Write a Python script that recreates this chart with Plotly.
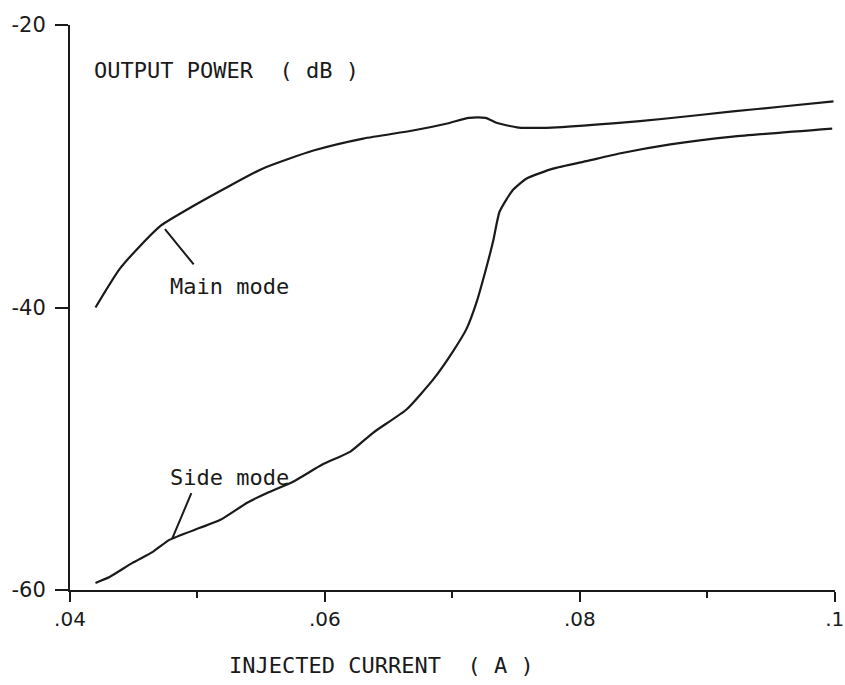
import plotly.graph_objects as go

# Main mode curve (injected current in A, output power in dB)
main_x = [0.0420, 0.0439, 0.0455, 0.0471, 0.0497, 0.0524, 0.0551, 0.0591, 0.0630,
          0.0669, 0.0696, 0.0713, 0.0726, 0.0734, 0.0745, 0.0752, 0.0778, 0.0826,
          0.0868, 0.0920, 0.0959, 0.0999]
main_y = [-40.0, -37.27, -35.64, -34.22, -32.8, -31.45, -30.17, -28.89, -28.04,
          -27.47, -26.97, -26.57, -26.57, -26.9, -27.15, -27.26, -27.26, -26.97,
          -26.62, -26.12, -25.77, -25.41]

# Side mode curve
side_x = [0.0420, 0.0431, 0.0449, 0.0465, 0.0478, 0.0502, 0.0518, 0.0539, 0.0555,
          0.0575, 0.0598, 0.0620, 0.0638, 0.0664, 0.0685, 0.0700, 0.0711, 0.0719,
          0.0727, 0.0732, 0.0737, 0.0747, 0.0758, 0.0779, 0.0806, 0.0831, 0.0871,
          0.0920, 0.0998]
side_y = [-59.5, -59.08, -58.08, -57.30, -56.45, -55.6, -55.03, -53.82, -53.11,
          -52.33, -51.12, -50.20, -48.85, -47.22, -45.09, -43.17, -41.53, -39.62,
          -37.06, -35.3, -33.22, -31.73, -30.88, -30.17, -29.62, -29.1, -28.45,
          -27.90, -27.33]

x_ticks = [0.04, 0.06, 0.08, 0.1]
x_tick_text = [".04", ".06", ".08", ".1"]
x_minor_ticks = [0.05, 0.07, 0.09]
y_ticks = [-60, -40, -20]
y_tick_text = ["-60", "-40", "-20"]

INK = "#1a1a1a"
FONT = "DejaVu Sans Mono"
TICK_FONT = "DejaVu Sans"

fig = go.Figure()
fig.add_trace(go.Scatter(x=main_x, y=main_y, mode="lines",
                         line=dict(color=INK, width=2.2, shape="spline", smoothing=0.6),
                         showlegend=False, hoverinfo="skip"))
fig.add_trace(go.Scatter(x=side_x, y=side_y, mode="lines",
                         line=dict(color=INK, width=2.2, shape="spline", smoothing=0.5),
                         showlegend=False, hoverinfo="skip"))

# leader lines
fig.add_annotation(x=0.04745, y=-34.45, ax=0.0498, ay=-37.06, axref="x", ayref="y",
                   xref="x", yref="y", text="", showarrow=True, arrowhead=0,
                   arrowwidth=2, arrowcolor=INK)
fig.add_annotation(x=0.0480, y=-56.4, ax=0.04957, ay=-53.04, axref="x", ayref="y",
                   xref="x", yref="y", text="", showarrow=True, arrowhead=0,
                   arrowwidth=2, arrowcolor=INK)

# labels
fig.add_annotation(x=0.04173, y=-23.2, xref="x", yref="y", text="OUTPUT POWER  ( dB )",
                   showarrow=False, xanchor="left", yanchor="middle",
                   font=dict(family=FONT, size=22, color=INK))
fig.add_annotation(x=0.04769, y=-38.48, xref="x", yref="y", text="Main mode",
                   showarrow=False, xanchor="left", yanchor="middle",
                   font=dict(family=FONT, size=22, color=INK))
fig.add_annotation(x=0.04769, y=-52.05, xref="x", yref="y", text="Side mode",
                   showarrow=False, xanchor="left", yanchor="middle",
                   font=dict(family=FONT, size=22, color=INK))
fig.add_annotation(x=0.205, y=-0.133, xref="paper", yref="paper",
                   text="INJECTED CURRENT  ( A )",
                   showarrow=False, xanchor="left", yanchor="middle",
                   font=dict(family=FONT, size=22, color=INK))

fig.update_xaxes(range=[0.04, 0.10002], tickvals=x_ticks, ticktext=x_tick_text,
                 showline=True, linecolor=INK, linewidth=2, ticks="outside",
                 ticklen=10, tickwidth=2, tickcolor=INK, showgrid=False,
                 zeroline=False, ticklabeloverflow="allow", automargin=False,
                 tickfont=dict(family=TICK_FONT, size=20, color=INK),
                 minor=dict(tickvals=x_minor_ticks, ticks="outside", ticklen=6,
                            tickwidth=2, tickcolor=INK, showgrid=False))
fig.update_yaxes(range=[-60, -20], tickvals=y_ticks, ticktext=y_tick_text,
                 showline=True, linecolor=INK, linewidth=2, ticks="outside",
                 ticklen=13, tickwidth=2, tickcolor=INK, showgrid=False,
                 zeroline=False, ticklabelstandoff=5, ticklabeloverflow="allow",
                 automargin=False,
                 tickfont=dict(family=TICK_FONT, size=21, color=INK))

fig.update_layout(width=845, height=685, paper_bgcolor="white", plot_bgcolor="white",
                  margin=dict(l=70, r=10, t=25, b=95), showlegend=False)

fig.write_html("out.html")
